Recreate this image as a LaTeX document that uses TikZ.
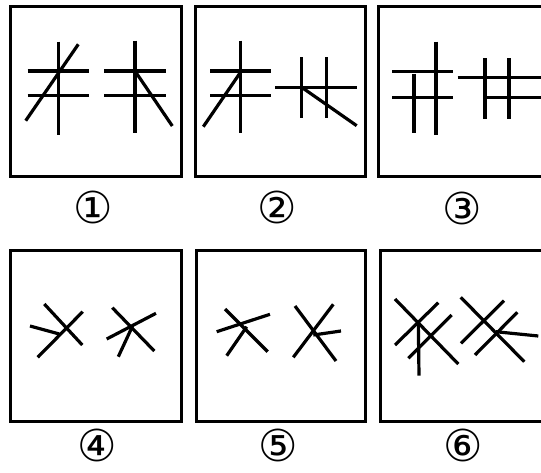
\documentclass[tikz,border=0pt]{standalone}
\usepackage{fontspec}
\newfontfamily\circfont{DejaVu Sans}
\usetikzlibrary{positioning}
\tikzset{
  frame/.style={line width=3pt},
  stroke/.style={line width=3.2pt},
  numlabel/.style={font=\circfont\fontsize{44}{44}\selectfont,inner sep=0pt}
}
\begin{document}
\begin{tikzpicture}[x=1pt,y=-1pt]
  \useasboundingbox (0,0) rectangle (541,473);
  \begin{scope}
  \clip (0,0) rectangle (541,473);
  % Frames
  \draw[frame] (10,7) rectangle (181,177);
  \draw[frame] (195,7) rectangle (365,177);
  \draw[frame] (378,7) rectangle (560,177);
  \draw[frame] (10,251) rectangle (181,421.5);
  \draw[frame] (196,251) rectangle (365,421.5);
  \draw[frame] (380,251) rectangle (560,421.5);
  % Figure 1
  \draw[stroke] (58.7,41.7) -- (58.7,135);
  \draw[stroke] (27.7,71) -- (89.3,71); \draw[stroke] (27.7,95.7) -- (89.3,95.7);
  \draw[stroke] (25.7,120.7) -- (78.3,44.3);
  \draw[stroke] (135,40.7) -- (135,132.7);
  \draw[stroke] (104.3,71) -- (165.7,71); \draw[stroke] (104.3,95.7) -- (165.7,95.7);
  \draw[stroke] (135,71) -- (172.3,126);
  % Figure 2
  \draw[stroke] (240.7,40.7) -- (240.7,132.7);
  \draw[stroke] (210,71) -- (270.7,71); \draw[stroke] (210,95.7) -- (270.7,95.7);
  \draw[stroke] (203.3,126.7) -- (240.7,72);
  \draw[stroke] (275,87.3) -- (356.7,87.3);
  \draw[stroke] (301.7,57.3) -- (301.7,118.3); \draw[stroke] (326.7,57.3) -- (326.7,118.3);
  \draw[stroke] (301.7,87.3) -- (356.7,125.7);
  % Figure 3
  \draw[stroke] (392.3,71.7) -- (453.3,71.7); \draw[stroke] (392.3,97.3) -- (453.3,97.3);
  \draw[stroke] (436,41.7) -- (436,135); \draw[stroke] (414,74) -- (414,133.3);
  \draw[stroke] (457.7,77.7) -- (541,77.7); \draw[stroke] (485,97.3) -- (541,97.3);
  \draw[stroke] (485,58.3) -- (485,119.3); \draw[stroke] (509,58.3) -- (509,119.3);
  % Figure 4
  \draw[stroke] (44.3,304) -- (82.3,345);
  \draw[stroke] (37.7,357.3) -- (82.7,311.7);
  \draw[stroke] (30,326) -- (59.3,334);
  \draw[stroke] (112.3,307.7) -- (154.3,351);
  \draw[stroke] (106.7,339) -- (156,313.3);
  \draw[stroke] (132.7,325.7) -- (118.3,356.7);
  % Figure 5
  \draw[stroke] (225,309) -- (267.7,351.7);
  \draw[stroke] (216.7,331.7) -- (270,314.3);
  \draw[stroke] (246.7,326.7) -- (226.7,355.7);
  \draw[stroke] (295,306) -- (336,361);
  \draw[stroke] (293.3,357.3) -- (333.3,304.3);
  \draw[stroke] (313.3,335) -- (341,331);
  % Figure 6
  \draw[stroke] (395,299) -- (458.3,364);
  \draw[stroke] (395,345) -- (438.3,302.7);
  \draw[stroke] (408.3,358.3) -- (451.7,315);
  \draw[stroke] (418.3,322.3) -- (419,375.7);
  \draw[stroke] (460.7,297.3) -- (524.3,361.7);
  \draw[stroke] (461,343.3) -- (504,300.7);
  \draw[stroke] (475,355) -- (517.3,312.3);
  \draw[stroke] (495.7,331.7) -- (538.3,336);
  \end{scope}
  % Labels
  \node[numlabel] (lab1) at (93,207) {①};
  \node[numlabel] (lab2) at (277,207) {②};
  \node[numlabel] (lab3) at (462,208) {③};
  \node[numlabel] (lab4) at (97,445) {④};
  \node[numlabel] (lab5) at (278,445) {⑤};
  \node[numlabel] (lab6) at (463,445) {⑥};
\end{tikzpicture}
\end{document}
